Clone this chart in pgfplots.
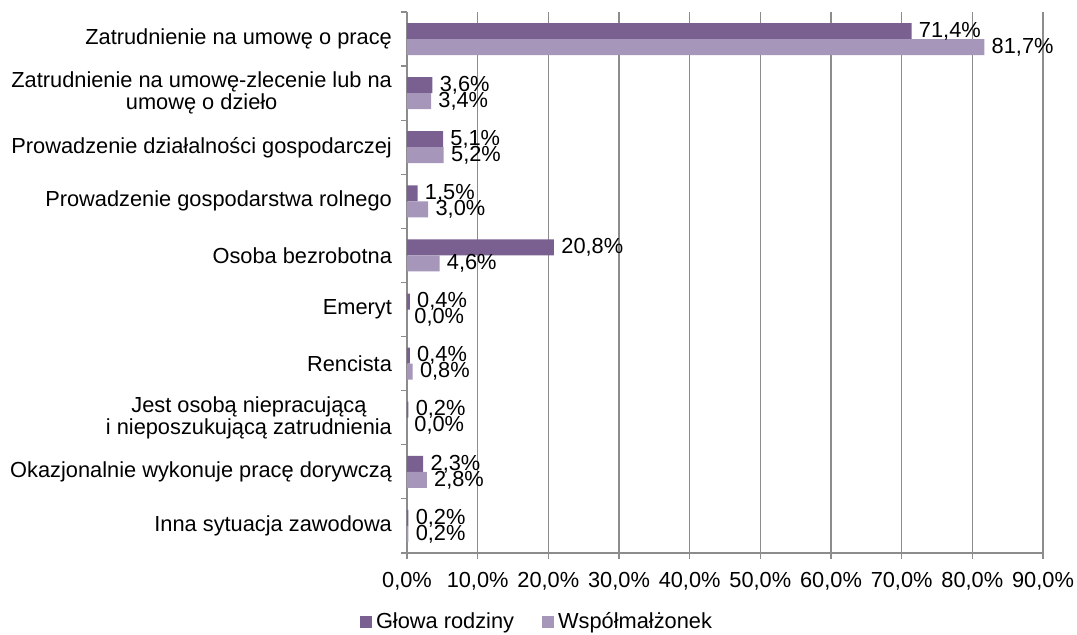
\documentclass[border=0pt]{standalone}
\usepackage{fontspec}
\setmainfont{Liberation Sans}
\usepackage{pgfplots}
\pgfplotsset{compat=1.18}

\definecolor{glowa}{HTML}{7A5F91}
\definecolor{malz}{HTML}{A596BA}
\definecolor{gridgray}{HTML}{8C8C8C}
\newcommand{\chartfont}{\fontsize{10.9}{9.6}\selectfont}

\begin{document}
\begin{tikzpicture}
\begin{axis}[
    scale only axis,
    width=318pt, height=270.5pt,
    xbar, bar width=8pt,
    xmin=0, xmax=90,
    ymin=-0.5, ymax=9.5,
    axis lines=left,
    axis line style={-, gridgray, line width=0.6pt},
    xtick={0,10,...,90},
    xticklabel={\pgfmathprintnumber[fixed,fixed zerofill,precision=1,use comma,assume math mode=true]{\tick}\%},
    xmajorgrids, grid style={gridgray, line width=0.6pt},
    ytick={0,...,9},
    yticklabels={Inna sytuacja zawodowa,
        Okazjonalnie wykonuje pracę dorywczą,
        {Jest osobą niepracującą\\i nieposzukującą zatrudnienia},
        Rencista,
        Emeryt,
        Osoba bezrobotna,
        Prowadzenie gospodarstwa rolnego,
        Prowadzenie działalności gospodarczej,
        {Zatrudnienie na umowę-zlecenie lub na\\umowę o dzieło},
        Zatrudnienie na umowę o pracę},
    minor ytick={-0.5,0.5,...,9.5},
    tick align=outside,
    major tick length=3pt, minor tick length=3pt,
    major y tick style={draw=none},
    tick style={gridgray, line width=0.6pt},
    tick label style={font=\chartfont, black},
    yticklabel style={align=center, xshift=-1pt},
    xticklabel style={yshift=-3pt},
    /pgf/number format/assume math mode=true,
    nodes near coords={\pgfmathprintnumber[fixed,fixed zerofill,precision=1,use comma,assume math mode=true]{\pgfplotspointmeta}\%},
    point meta=x,
    every node near coord/.append style={font=\chartfont, black, anchor=west, inner sep=1pt, xshift=2.5pt},
    legend columns=2,
    legend style={at={(axis description cs:0.206,-0.1275)}, anchor=center,
        draw=none, font=\chartfont, /tikz/every even column/.append style={column sep=12pt}},
    legend image code/.code={\fill[#1] (0pt,-3pt) rectangle (6pt,3pt);},
]
\addplot[fill=glowa, draw=none, bar shift=4pt] coordinates {
    (71.4,9) (3.6,8) (5.1,7) (1.5,6) (20.8,5)
    (0.4,4) (0.4,3) (0.2,2) (2.3,1) (0.2,0)};
\addlegendentry{Głowa rodziny}
\addplot[fill=malz, draw=none, bar shift=-4pt] coordinates {
    (81.7,9) (3.4,8) (5.2,7) (3.0,6) (4.6,5)
    (0.0,4) (0.8,3) (0.0,2) (2.8,1) (0.2,0)};
\addlegendentry{Współmałżonek}
\end{axis}
\pgfresetboundingbox
\path[use as bounding box] (-203.5pt,-41pt) rectangle (335pt,276.5pt);
\end{tikzpicture}
\end{document}
